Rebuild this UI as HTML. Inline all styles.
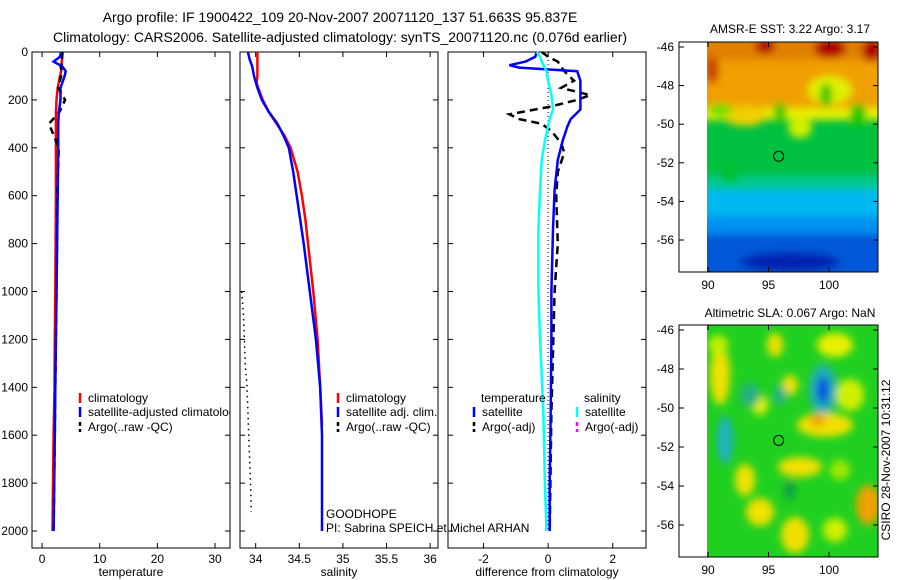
<!DOCTYPE html>
<html><head><meta charset="utf-8"><style>
body{margin:0;background:#fff;}
svg{display:block;font-family:"Liberation Sans",sans-serif;}
</style></head><body>
<svg id="c" width="900" height="580" xmlns="http://www.w3.org/2000/svg">
<defs>
<filter id="bl" x="-20%" y="-20%" width="140%" height="140%"><feGaussianBlur stdDeviation="4"/></filter>
<clipPath id="m1c"><rect x="707" y="42" width="171" height="230"/></clipPath>
<clipPath id="m2c"><rect x="707" y="325" width="171" height="232"/></clipPath>
</defs>
<text x="340" y="22" font-size="14" text-anchor="middle">Argo profile: IF 1900422_109 20-Nov-2007 20071120_137 51.663S 95.837E</text>
<text x="340" y="42" font-size="14" text-anchor="middle">Climatology: CARS2006. Satellite-adjusted climatology: synTS_20071120.nc (0.076d earlier)</text>
<g id="maps">
<g clip-path="url(#m1c)">
<rect x="707" y="42" width="171" height="230" fill="#00c040"/>
<g filter="url(#bl)">
<rect x="700" y="35" width="190" height="75" fill="#f0a000"/>
<rect x="700" y="35" width="190" height="25" fill="#e08000"/>
<ellipse cx="765" cy="46" rx="10" ry="8" fill="#b00000"/>
<ellipse cx="830" cy="48" rx="16" ry="10" fill="#b00000"/>
<ellipse cx="872" cy="50" rx="10" ry="12" fill="#b00000"/>
<ellipse cx="712" cy="70" rx="7" ry="14" fill="#c84000"/>
<ellipse cx="830" cy="90" rx="22" ry="14" fill="#e0f000"/>
<ellipse cx="826" cy="95" rx="6" ry="12" fill="#00c800"/>
<rect x="700" y="108" width="190" height="12" fill="#e8f000"/>
<ellipse cx="745" cy="116" rx="22" ry="10" fill="#f0d000"/>
<ellipse cx="800" cy="128" rx="12" ry="10" fill="#d0f000"/>
<ellipse cx="720" cy="110" rx="12" ry="6" fill="#60e000"/>
<ellipse cx="780" cy="112" rx="6" ry="10" fill="#00c800"/>
<ellipse cx="858" cy="115" rx="8" ry="12" fill="#00c800"/>
<rect x="700" y="175" width="190" height="16" fill="#00c890"/>
<ellipse cx="730" cy="175" rx="10" ry="8" fill="#00c030"/>
<rect x="700" y="190" width="190" height="28" fill="#00b8f0"/>
<rect x="700" y="216" width="190" height="20" fill="#0090f0"/>
<rect x="700" y="234" width="190" height="45" fill="#0058d8"/>
<ellipse cx="790" cy="262" rx="50" ry="10" fill="#0020b0"/>
</g>
</g>
<g clip-path="url(#m2c)">
<rect x="707" y="325" width="171" height="232" fill="#20d020"/>
<g filter="url(#bl)">
<ellipse cx="720" cy="375" rx="10" ry="30" fill="#f0e000"/>
<ellipse cx="775" cy="345" rx="8" ry="12" fill="#f0e000"/>
<ellipse cx="835" cy="345" rx="18" ry="12" fill="#e8f000"/>
<ellipse cx="718" cy="345" rx="10" ry="10" fill="#c0f000"/>
<ellipse cx="790" cy="385" rx="8" ry="10" fill="#f0e000"/>
<ellipse cx="760" cy="405" rx="8" ry="10" fill="#e0f000"/>
<ellipse cx="823" cy="390" rx="14" ry="26" fill="#20b0b0"/>
<ellipse cx="823" cy="390" rx="6" ry="14" fill="#0050e0"/>
<ellipse cx="850" cy="395" rx="14" ry="16" fill="#d0f000"/>
<ellipse cx="725" cy="440" rx="8" ry="24" fill="#20b0c0"/>
<ellipse cx="750" cy="395" rx="10" ry="12" fill="#20b080"/>
<ellipse cx="780" cy="395" rx="6" ry="10" fill="#20b090"/>
<ellipse cx="825" cy="425" rx="28" ry="12" fill="#f0e000"/>
<ellipse cx="818" cy="420" rx="8" ry="6" fill="#f0a000"/>
<ellipse cx="800" cy="467" rx="22" ry="10" fill="#f0e000"/>
<ellipse cx="745" cy="480" rx="10" ry="16" fill="#f0e000"/>
<ellipse cx="760" cy="512" rx="14" ry="14" fill="#f0e000"/>
<ellipse cx="795" cy="535" rx="14" ry="18" fill="#f0e000"/>
<ellipse cx="835" cy="530" rx="12" ry="12" fill="#d0f000"/>
<ellipse cx="868" cy="505" rx="12" ry="20" fill="#f0a000"/>
<ellipse cx="840" cy="470" rx="10" ry="10" fill="#a0e800"/>
<ellipse cx="790" cy="490" rx="6" ry="10" fill="#10a040"/>
</g>
</g>
</g>
<text x="790" y="33" font-size="12" text-anchor="middle">AMSR-E SST: 3.22 Argo: 3.17</text>
<text x="790" y="317" font-size="12" text-anchor="middle">Altimetric SLA: 0.067 Argo: NaN</text>
<text transform="translate(890,460) rotate(-90)" font-size="12" text-anchor="middle">CSIRO 28-Nov-2007 10:31:12</text>
<g id="plots"></g>
</svg>
<script>
// depth grid (m)
const depthT = [0,20,40,60,80,100,150,200,250,300,400,600,800,1000,1200,1400,1600,1800,2000];
const tempClim = [3.6,3.5,3.4,3.4,3.3,3.1,2.7,2.5,2.4,2.4,2.4,2.4,2.35,2.3,2.2,2.15,2.0,1.9,1.8];
const tempSat  = [3.3,3.1,2.0,3.5,4.1,3.9,3.2,3.2,2.9,2.8,2.8,2.7,2.6,2.5,2.4,2.3,2.2,2.1,2.0];
const tempArgo = [3.5,3.4,3.6,3.2,3.4,3.3,2.8,4.0,3.0,1.2,2.9,2.6,2.6,2.5,2.4,2.3,2.2,2.1,2.0];
const depthS = [0,50,100,130,150,200,250,300,350,400,500,600,700,800,1000,1200,1400,1560];
const salClim = [34.02,34.02,34.02,34.01,34.03,34.08,34.15,34.24,34.33,34.40,34.48,34.53,34.57,34.60,34.66,34.71,34.74,34.76];
const depthS2 = [0,30,60,100,150,200,250,300,350,400,500,600,700,800,1000,1200,1400,1600,1800,2000];
const salSat  = [33.91,33.93,33.96,33.98,34.02,34.07,34.15,34.25,34.32,34.38,34.43,34.47,34.51,34.55,34.62,34.69,34.74,34.76,34.76,34.76];
const depthSA = [1000,1100,1200,1300,1400,1500,1600,1700,1800,1920];
const salArgo = [33.84,33.86,33.87,33.88,33.9,33.91,33.92,33.93,33.94,33.95];
const depthD = [0,20,40,55,65,80,120,180,240,280,310,370,450,575,740,1000,1200,1500,1800,2000];
const diffTSat = [-0.35,-0.4,-0.7,-1.2,-0.9,0.9,1.0,1.0,1.0,0.7,0.6,0.45,0.3,0.2,0.15,0.1,0.1,0.08,0.05,0.05];
const diffSSat = [-0.35,-0.25,-0.2,-0.15,-0.1,-0.05,0.0,0.1,0.15,0.05,0.0,-0.1,-0.2,-0.25,-0.3,-0.3,-0.25,-0.15,-0.1,-0.05];
const depthDA = [0,20,40,80,120,150,180,200,230,260,280,300,330,380,420,500,600,800,1000,1500,2000];
const diffTArgo = [-0.2,0.0,0.3,0.5,0.8,0.4,1.3,0.9,0.0,-1.2,-0.9,-0.2,0.1,0.4,0.5,0.3,0.25,0.3,0.2,0.1,0.05];
const depthTicks = [0,200,400,600,800,1000,1200,1400,1600,1800,2000];

const NS='http://www.w3.org/2000/svg';
const plots=document.getElementById('plots');
function mk(tag,attrs,parent){const e=document.createElementNS(NS,tag);for(const k in attrs)e.setAttribute(k,attrs[k]);(parent||plots).appendChild(e);return e;}
const Y0=52, YS=479/2000, BOT=548;
const yS=d=>Y0+d*YS;

function panel(name,x0,x1,vmin,vmax,xticks,xlabels,xtitle){
  const g=mk('g',{});
  
  
  const xs=v=>x0+(v-vmin)/(vmax-vmin)*(x1-x0);
  mk('rect',{x:x0,y:Y0,width:x1-x0,height:BOT-Y0,fill:'none',stroke:'#000','stroke-width':1},g);
  depthTicks.forEach(d=>{const y=yS(d);mk('line',{x1:x0,x2:x0+5,y1:y,y2:y,stroke:'#000'},g);mk('line',{x1:x1-5,x2:x1,y1:y,y2:y,stroke:'#000'},g);});
  xticks.forEach((v,i)=>{const x=xs(v);mk('line',{x1:x,x2:x,y1:Y0,y2:Y0+5,stroke:'#000'},g);mk('line',{x1:x,x2:x,y1:BOT-5,y2:BOT,stroke:'#000'},g);
    const t=mk('text',{x:x,y:BOT+15,'font-size':12,'text-anchor':'middle'},g);t.textContent=xlabels[i];
    
    });
  const tt=mk('text',{x:(x0+x1)/2,y:576,'font-size':12,'text-anchor':'middle'},g);tt.textContent=xtitle;
  
  
  return {g,xs};
}
function line(p,vals,deps,color,w,dash,name){
  const pts=vals.map((v,i)=>p.xs(v).toFixed(1)+','+yS(deps[i]).toFixed(1)).join(' ');
  const l=mk('polyline',{points:pts,fill:'none',stroke:color,'stroke-width':w,'stroke-dasharray':dash||'none'},p.g);
  
  
}
function txt(x,y,s,name,g){const t=mk('text',{x:x,y:y,'font-size':12},g);t.textContent=s;
  
  return t;}
function leg(x,y,color,dash,s,g){
  const l=mk('line',{x1:x,x2:x,y1:y-9,y2:y+1,stroke:color,'stroke-width':2.5,'stroke-dasharray':dash||'none'},g);
  
  
  txt(x+8,y,s,'legend-entry',g);
}

depthTicks.forEach(d=>{const t=mk('text',{x:28,y:yS(d)+4,'font-size':12,'text-anchor':'end'});t.textContent=d;
  
  });

const p1=panel('temperature-panel',32,230,-1.75,32.6,[0,10,20,30],['0','10','20','30'],'temperature');
line(p1,tempClim,depthT,'#f00',2.5,null,'temp-climatology-line');
line(p1,tempArgo,depthT,'#000',2.5,'7,5','temp-argo-line');
line(p1,tempSat,depthT,'#00f',2.5,null,'temp-satellite-line');
const cl1=mk('clipPath',{id:'cl1'});mk('rect',{x:32,y:52,width:198,height:496},cl1);
const lg1=mk('g',{'clip-path':'url(#cl1)'},p1.g);
leg(80,402,'#f00',null,'climatology',lg1);
leg(80,416,'#00f',null,'satellite-adjusted climatology',lg1);
leg(80,431,'#000','4,3','Argo(..raw -QC)',lg1);

const p2=panel('salinity-panel',240,438,33.82,36.09,[34,34.5,35,35.5,36],['34','34.5','35','35.5','36'],'salinity');
line(p2,salClim,depthS,'#f00',2.5,null,'sal-climatology-line');
line(p2,salSat,depthS2,'#00f',2.5,null,'sal-satellite-line');
line(p2,salArgo,depthSA,'#000',1.5,'1.5,4','sal-argo-line');
leg(338,402,'#f00',null,'climatology',p2.g);
leg(338,416,'#00f',null,'satellite adj. clim.',p2.g);
leg(338,431,'#000','4,3','Argo(..raw -QC)',p2.g);

const p3=panel('difference-panel',448,646,-3.1,3.03,[-2,0,2],['-2','0','2'],'difference from climatology');
mk('line',{x1:p3.xs(0),x2:p3.xs(0),y1:yS(0),y2:yS(2000),stroke:'#000','stroke-width':1,'stroke-dasharray':'1,3'},p3.g);
line(p3,diffTArgo,depthDA,'#000',2.5,'8,5','diff-temp-argo-line');
line(p3,diffTSat,depthD,'#00f',2.5,null,'diff-temp-satellite-line');
line(p3,diffSSat,depthD,'#0ff',2.5,null,'diff-sal-satellite-line');
txt(481,402,'temperature','legend-header-temperature',p3.g);
leg(474,416,'#00f',null,'satellite',p3.g);
leg(474,431,'#000','4,3','Argo(-adj)',p3.g);
txt(584,402,'salinity','legend-header-salinity',p3.g);
leg(577,416,'#0ff',null,'satellite',p3.g);
leg(577,431,'#f0f','4,3','Argo(-adj)',p3.g);

txt(326,518,'GOODHOPE','project-label');
txt(326,532,'PI: Sabrina SPEICH et Michel ARHAN','pi-label');

function mapAxes(name,y0,y1,latTop,ypx){
  const g=mk('g',{});
  
  
  mk('rect',{x:679,y:y0,width:199,height:y1-y0,fill:'none',stroke:'#000'},g);
  [-46,-48,-50,-52,-54,-56].forEach(l=>{const y=ypx(l);mk('line',{x1:679,x2:684,y1:y,y2:y,stroke:'#000'},g);mk('line',{x1:873,x2:878,y1:y,y2:y,stroke:'#000'},g);
    const t=mk('text',{x:674,y:y+4,'font-size':12,'text-anchor':'end'},g);t.textContent=l;
    
    });
  [90,95,100].forEach(lo=>{const x=708+(lo-90)*12.1;mk('line',{x1:x,x2:x,y1:y0,y2:y0+5,stroke:'#000'},g);mk('line',{x1:x,x2:x,y1:y1-5,y2:y1,stroke:'#000'},g);
    const t=mk('text',{x:x,y:y1+17,'font-size':12,'text-anchor':'middle'},g);t.textContent=lo;
    
    });
  const c=mk('circle',{cx:708+(95.837-90)*12.1,cy:ypx(-51.663),r:5,fill:'none',stroke:'#000'},g);
  
  
}
mapAxes('sst-map-axes',42,272,-46,l=>47+(-46-l)*19.3);
mapAxes('sla-map-axes',325,557,-46,l=>330+(-46-l)*19.5);
</script>
</body></html>
